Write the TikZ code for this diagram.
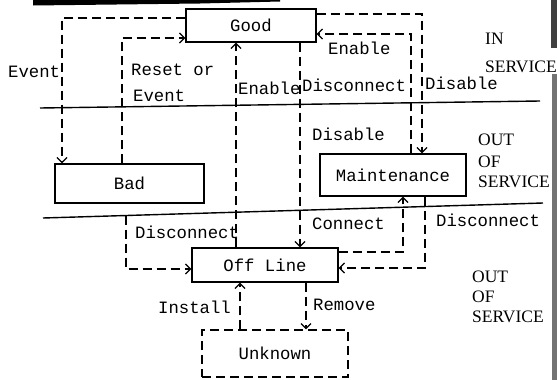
\documentclass[tikz,border=0pt]{standalone}
\usepackage{fontspec}
\usetikzlibrary{arrows.meta,calc}
\newfontfamily\tw{Liberation Mono}
\newfontfamily\sr{Liberation Serif}

\tikzset{
  state/.style={draw, line width=1.4pt, rectangle, inner sep=0pt,
    font=\tw\fontsize{17.3}{20}\selectfont},
  flow/.style={line width=1.2pt, dash pattern=on 9pt off 5pt,
    -{Straight Barb[length=5pt,width=10pt,line width=1.2pt]}},
  plain/.style={line width=1.2pt, dash pattern=on 9pt off 5pt},
  lbl/.style={anchor=west, inner sep=0pt, text height=10pt, text depth=0pt,
    font=\tw\fontsize{17.3}{20}\selectfont},
  zone/.style={anchor=west, inner sep=0pt, text height=11pt, text depth=0pt,
    font=\sr\fontsize{17.5}{20}\selectfont},
  sep/.style={line width=1.4pt},
}

\begin{document}
\begin{tikzpicture}[x=1pt,y=-1pt]
\useasboundingbox (0,0) rectangle (557,380);

% scanned page edges
\fill[black] (33,0) -- (280,0) -- (280,1.5) -- (200,3.5) -- (33,5.5) -- cycle;
\fill[black!75] (551,0) rectangle (557,48);
\fill[black!55] (552,74) rectangle (557,380);

% separators between service zones
\coordinate (sepA1) at (40,108);
\coordinate (sepA2) at (540,101);
\coordinate (sepB1) at (43,218);
\coordinate (sepB2) at (543,203);
\draw[sep] (sepA1) -- (sepA2);
\draw[sep] (sepB1) -- (sepB2);

% states
\node[state, minimum width=130pt, minimum height=33pt] (good) at (251,25.5) {Good};
\node[state, minimum width=149pt, minimum height=39pt] (bad) at (129.5,183.5) {Bad};
\node[state, minimum width=146pt, minimum height=42pt] (maint) at (393,175) {Maintenance};
\node[state, minimum width=146pt, minimum height=34pt] (off) at (265,265) {Off Line};
\node[state, plain, minimum width=146pt, minimum height=47pt] (unk) at (275,353.5) {Unknown};

% transitions
\draw[flow] (good.west |- 0,18) -- (62,18) -- (bad.north -| 62,0);
\draw[flow] (bad.north -| 122,0) -- (122,38) -- (good.west |- 0,38);
\draw[flow] (off.north -| 236,0) -- (good.south -| 236,0);
\draw[flow] (good.south -| 300,0) -- (off.north -| 300,0);
\draw[flow] (good.east |- 0,14) -- (422,14) -- (maint.north -| 422,0);
\draw[flow] (maint.north -| 411,0) -- (411,34) -- (good.east |- 0,34);
\draw[flow] (off.east |- 0,252) -- (403,252) -- (maint.south -| 403,0);
\draw[flow] (maint.south -| 425,0) -- (425,268) -- (off.east |- 0,268);
\coordinate (dcstart) at ($(sepB1)!0.166!(sepB2)$);
\draw[flow] (dcstart) -- (dcstart |- 0,269) -- (off.west |- 0,269);
\draw[flow] (unk.north -| 240,0) -- (off.south -| 240,0);
\draw[flow] (off.south -| 306,0) -- (unk.north -| 306,0);

% transition labels
\node[lbl] (lEvent) at (8,72) {Event};
\node[lbl] (lReset) at (131,70) {Reset or};
\node[lbl] (lEvent2) at (133,96) {Event};
\node[lbl] (lEnableA) at (238,89) {Enable};
\node[lbl] (lDiscA) at (302,86) {Disconnect};
\node[lbl] (lDisableA) at (425,84) {Disable};
\node[lbl] (lEnableB) at (328,49) {Enable};
\node[lbl] (lDisableB) at (312,135) {Disable};
\node[lbl] (lConnect) at (312,224) {Connect};
\node[lbl] (lDiscB) at (436,221) {Disconnect};
\node[lbl] (lDiscC) at (135,233) {Disconnect};
\node[lbl] (lInstall) at (158,308) {Install};
\node[lbl] (lRemove) at (313,305) {Remove};

% zone names
\node[zone] (zIn1) at (485,39) {IN};
\node[zone] (zIn2) at (485,67) {SERVICE};
\node[zone] (zOutA1) at (478,140) {OUT};
\node[zone] (zOutA2) at (478,162) {OF};
\node[zone] (zOutA3) at (478,182) {SERVICE};
\node[zone] (zOutB1) at (472,277) {OUT};
\node[zone] (zOutB2) at (472,297) {OF};
\node[zone] (zOutB3) at (472,317) {SERVICE};
\end{tikzpicture}
\end{document}
